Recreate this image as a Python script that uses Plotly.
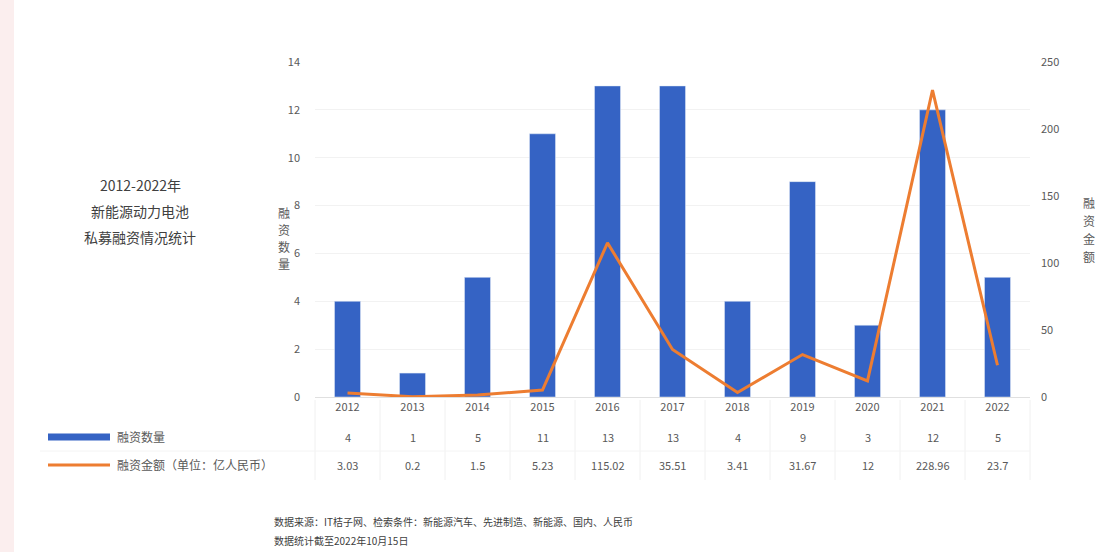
import plotly.graph_objects as go

years = ["2012", "2013", "2014", "2015", "2016", "2017", "2018", "2019", "2020", "2021", "2022"]
counts = [4, 1, 5, 11, 13, 13, 4, 9, 3, 12, 5]
amounts = [3.03, 0.2, 1.5, 5.23, 115.02, 35.51, 3.41, 31.67, 12, 228.96, 23.7]
left_ticks = [0, 2, 4, 6, 8, 10, 12, 14]
right_ticks = [0, 50, 100, 150, 200, 250]

title_lines = ["2012-2022年", "新能源动力电池", "私募融资情况统计"]
name_count = "融资数量"
name_amount = "融资金额（单位：亿人民币）"
right_title = "融资金额"
source_lines = ["数据来源：IT桔子网、检索条件：新能源汽车、先进制造、新能源、国内、人民币",
                "数据统计截至2022年10月15日"]

FONT = "Noto Sans CJK SC, Noto Sans, sans-serif"
BLUE = "#3563C4"
ORANGE = "#ED7D31"
GREY = "#595959"

W, H = 1102, 552
L, R, T, B = 315, 72, 62, 155
pw, ph = W - L - R, H - T - B


def px(x):
    return (x - L) / pw


def py(y):
    return (H - B - y) / ph


fig = go.Figure()
fig.add_trace(go.Bar(x=years, y=counts, marker_color=BLUE, width=0.4, yaxis="y",
                     showlegend=False))
fig.add_trace(go.Scatter(x=years, y=amounts, mode="lines", line=dict(color=ORANGE, width=3),
                         yaxis="y2", showlegend=False))

annotations = []
for j, line in enumerate(title_lines):
    annotations.append(dict(text=line, x=px(140), y=py(185 + 26 * j), xref="paper", yref="paper",
                            showarrow=False, xanchor="center", yanchor="middle",
                            font=dict(size=14, color="#404040")))
for j, ch in enumerate(name_count):
    annotations.append(dict(text=ch, x=px(284), y=py(212 + 17 * j), xref="paper",
                            yref="paper", showarrow=False, xanchor="center", yanchor="middle",
                            font=dict(size=12, color=GREY)))
for j, ch in enumerate(right_title):
    annotations.append(dict(text=ch, x=px(1089), y=py(202 + 18 * j), xref="paper",
                            yref="paper", showarrow=False, xanchor="center", yanchor="middle",
                            font=dict(size=12, color=GREY)))
for i in range(len(years)):
    annotations.append(dict(x=i, xref="x", y=py(437), yref="paper", text=str(counts[i]),
                            showarrow=False, yanchor="middle", font=dict(size=11, color=GREY)))
    annotations.append(dict(x=i, xref="x", y=py(465), yref="paper", text=f"{amounts[i]:g}",
                            showarrow=False, yanchor="middle", font=dict(size=11, color=GREY)))
annotations.append(dict(text=name_count, x=px(115), y=py(437), xref="paper", yref="paper",
                        showarrow=False, xanchor="left", yanchor="middle",
                        font=dict(size=12, color=GREY)))
annotations.append(dict(text=name_amount, x=px(115), y=py(465), xref="paper", yref="paper",
                        showarrow=False, xanchor="left", yanchor="middle",
                        font=dict(size=12, color=GREY)))
for j, line in enumerate(source_lines):
    annotations.append(dict(text=line, x=px(272), y=py(521 + 19 * j), xref="paper",
                            yref="paper", showarrow=False, xanchor="left", yanchor="middle",
                            font=dict(size=10, color="#404040")))

shapes = []
shapes.append(dict(type="line", xref="paper", yref="paper", x0=px(48), x1=px(110), y0=py(437),
                   y1=py(437), line=dict(color=BLUE, width=7)))
shapes.append(dict(type="line", xref="paper", yref="paper", x0=px(48), x1=px(110), y0=py(465),
                   y1=py(465), line=dict(color=ORANGE, width=3)))
for k in range(len(years) + 1):
    xx = L + k * pw / len(years)
    shapes.append(dict(type="line", xref="paper", yref="paper", x0=px(xx), x1=px(xx),
                       y0=py(400), y1=py(480), line=dict(color="#f0f0f0", width=1)))
shapes.append(dict(type="line", xref="paper", yref="paper", x0=px(40), x1=px(L + pw),
                   y0=py(451), y1=py(451), line=dict(color="#f4f4f4", width=1)))
shapes.append(dict(type="rect", xref="paper", yref="paper", x0=px(0), x1=px(14), y0=py(0),
                   y1=py(H), fillcolor="#fbeeee", line=dict(width=0), layer="below"))

fig.update_layout(
    width=W, height=H,
    margin=dict(l=L, r=R, t=T, b=B, autoexpand=False),
    paper_bgcolor="white", plot_bgcolor="white",
    font=dict(family=FONT, color=GREY, size=11),
    xaxis=dict(type="category", range=[-0.5, len(years) - 0.5], autorange=False,
               showgrid=False, showline=True, linecolor="#e0e0e0",
               ticks="", tickfont=dict(size=11, color=GREY)),
    yaxis=dict(range=[0, 14], tickvals=left_ticks, showgrid=True, gridcolor="#f2f2f2",
               zeroline=False, tickfont=dict(size=11, color=GREY), ticklabelstandoff=14),
    yaxis2=dict(range=[0, 250], tickvals=right_ticks, overlaying="y", side="right",
                showgrid=False, zeroline=False, tickfont=dict(size=11, color=GREY),
                ticklabelstandoff=10),
    showlegend=False,
    annotations=annotations,
    shapes=shapes,
)
fig.write_html("out.html")
